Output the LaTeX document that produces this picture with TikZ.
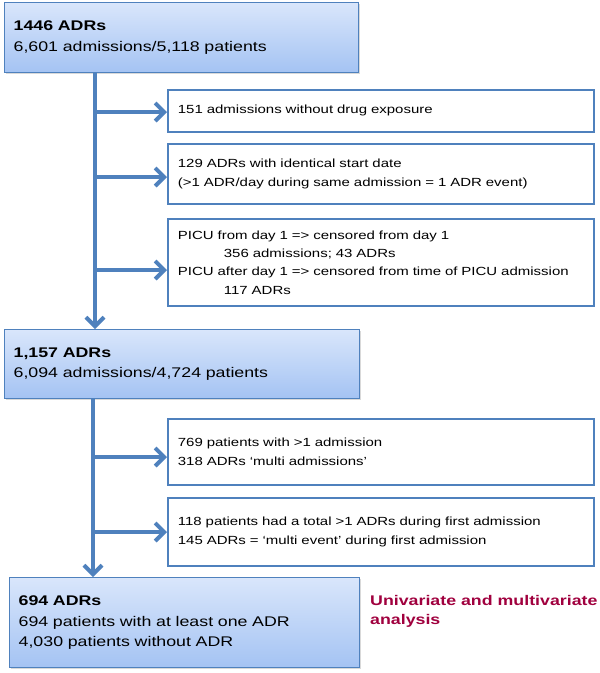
\documentclass[tikz,border=0pt]{standalone}
\usepackage{fontspec}
\setmainfont{Liberation Sans}[FakeStretch=1.27]
\usetikzlibrary{arrows.meta,shadows}
\definecolor{boxblue}{RGB}{79,129,189}
\definecolor{topblue}{RGB}{217,230,251}
\definecolor{botblue}{RGB}{164,195,243}
\definecolor{resred}{RGB}{160,0,62}

\begin{document}
\begin{tikzpicture}[
    x=1pt,
    y=-1pt,
    stage/.style ={
        draw=boxblue,
        line width=1.3pt,
        top color=topblue,
        bottom color=botblue,
        drop shadow={shadow xshift=1pt,shadow yshift=-1.5pt,opacity=0.3},
        anchor=north west,
        align=left,
        inner xsep=9pt,
        font=\fontsize{14}{20.5}\selectfont
    },
    excl/.style ={
        draw=boxblue,
        line width=1.8pt,
        fill=white,
        drop shadow={shadow xshift=1pt,shadow yshift=-1.5pt,opacity=0.3},
        anchor=north west,
        align=left,
        inner xsep=10pt,
        text width=406pt,
        font=\fontsize{11.8}{18.3}\selectfont
    },
    flow/.style ={
        draw=boxblue,
        line width=4pt,
        -{Straight Barb[length=9pt,width=18pt]}
    }
    ]
    \useasboundingbox (0,0) rectangle (600,673);

    % main stages
    \node[stage, minimum height=70pt, text width=336pt] (adrs1446) at (4,2)
        {\textbf{1446 ADRs}\\6,601 admissions/5,118 patients};
    \node[stage, minimum height=69pt, text width=337pt] (adrs1157) at (4,329)
        {\textbf{1,157 ADRs}\\6,094 admissions/4,724 patients};
    \node[stage, minimum height=90pt, text width=332pt] (adrs694) at (9,577)
        {\textbf{694 ADRs}\\694 patients with at least one ADR\\4,030 patients without ADR};

    % exclusions
    \node[excl, minimum height=42pt] (noexposure) at (167,89)
        {151 admissions without drug exposure};
    \node[excl, minimum height=60pt] (startdate) at (167,143)
        {129 ADRs with identical start date\\(>1 ADR/day during same admission = 1 ADR event)};
    \node[excl, minimum height=87pt] (picu) at (167,218)
        {PICU from day 1 => censored from day 1\\\hspace*{46pt}356 admissions; 43 ADRs\\PICU after day 1 => censored from time of PICU admission\\\hspace*{46pt}117 ADRs};
    \node[excl, minimum height=66pt] (multiadm) at (167,418)
        {769 patients with >1 admission\\318 ADRs `multi admissions'};
    \node[excl, minimum height=68pt] (multievent) at (167,497)
        {118 patients had a total >1 ADRs during first admission\\145 ADRs = `multi event' during first admission};

    \node[anchor=north west, align=left, inner sep=0pt, text=resred,
          font=\bfseries\fontsize{14}{19.5}\selectfont] (analysis) at (370,595)
        {Univariate and multivariate\\analysis};

    % spines and branches
    \coordinate (spineup) at (95,0);
    \coordinate (spinedown) at (93,0);
    \draw[flow] (adrs1446.south -| spineup) -- (adrs1157.north -| spineup);
    \draw[flow] (adrs1157.south -| spinedown) -- (adrs694.north -| spinedown);
    \foreach \y/\target in {112/noexposure,177/startdate,270/picu}{
        \coordinate (from\target) at (95,\y);
        \draw[flow] (from\target) -- (from\target -| \target.west);
    }
    \foreach \y/\target in {457/multiadm,532/multievent}{
        \coordinate (from\target) at (93,\y);
        \draw[flow] (from\target) -- (from\target -| \target.west);
    }
\end{tikzpicture}
\end{document}
